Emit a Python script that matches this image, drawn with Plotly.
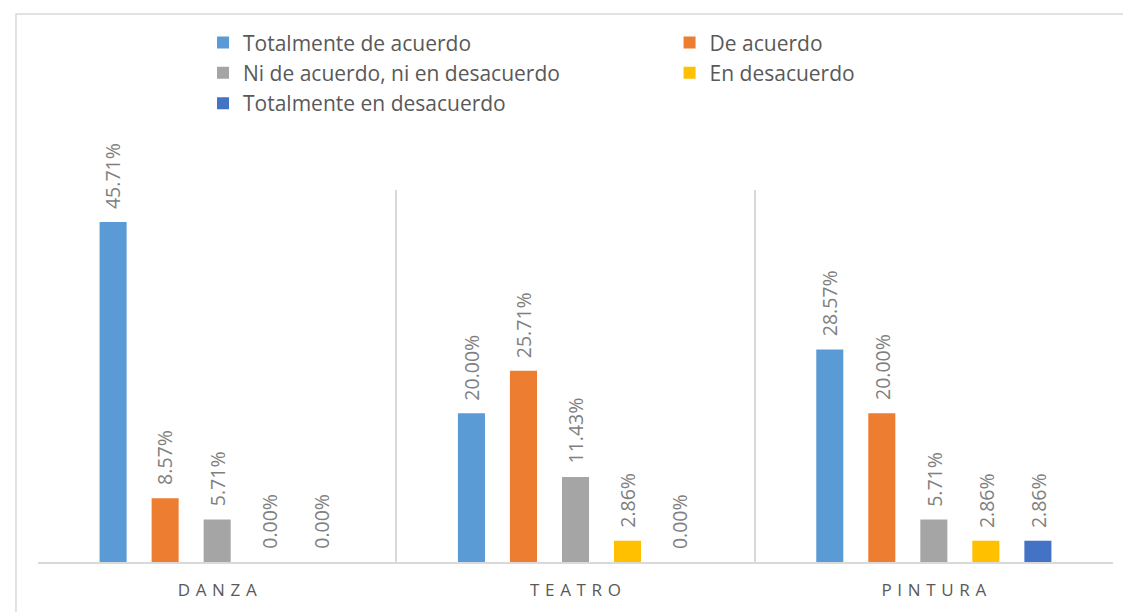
import plotly.graph_objects as go

categories = ["DANZA", "TEATRO", "PINTURA"]
series_names = [
    "Totalmente de acuerdo",
    "De acuerdo",
    "Ni de acuerdo, ni en desacuerdo",
    "En desacuerdo",
    "Totalmente en desacuerdo",
]
totalmente_de_acuerdo = [45.71, 20.00, 28.57]
de_acuerdo = [8.57, 25.71, 20.00]
ni_de_acuerdo = [5.71, 11.43, 5.71]
en_desacuerdo = [0.00, 2.86, 2.86]
totalmente_en_desacuerdo = [0.00, 0.00, 2.86]
series_values = [totalmente_de_acuerdo, de_acuerdo, ni_de_acuerdo,
                 en_desacuerdo, totalmente_en_desacuerdo]
colors = ["#5B9BD5", "#ED7D31", "#A5A5A5", "#FFC000", "#4472C4"]
legend_ids = ["legend", "legend2", "legend", "legend2", "legend"]

FONT = "Open Sans"
BARGAP = 0.274
n = len(series_names)
slot = (1 - BARGAP) / n

fig = go.Figure()
annotations = []
for i, (name, vals) in enumerate(zip(series_names, series_values)):
    fig.add_trace(go.Bar(
        x=categories, y=vals, name=name,
        marker=dict(color=colors[i], line=dict(width=0)),
        legend=legend_ids[i],
    ))
    for j, v in enumerate(vals):
        annotations.append(dict(
            x=j + (i - (n - 1) / 2) * slot, y=v, xref="x", yref="y",
            text=f"{v:.2f}%", textangle=-90, showarrow=False,
            xanchor="center", yanchor="bottom", yshift=11,
            font=dict(family=FONT, size=19.5, color="#7F7F7F"),
        ))

ticktext = ["\u2004".join(c) for c in categories]

fig.update_layout(
    width=1131, height=612,
    margin=dict(l=30, r=26, t=182, b=58),
    paper_bgcolor="white", plot_bgcolor="white",
    barmode="group", bargap=BARGAP, bargroupgap=0.48,
    font=dict(family=FONT, color="#595959"),
    annotations=annotations,
    legend=dict(x=0.1535, y=1.4505, xanchor="left", yanchor="top",
                orientation="v", font=dict(family=FONT, size=21, color="#595959"),
                bgcolor="rgba(0,0,0,0)", traceorder="normal", itemwidth=30),
    legend2=dict(x=0.5875, y=1.4505, xanchor="left", yanchor="top",
                 orientation="v", font=dict(family=FONT, size=21, color="#595959"),
                 bgcolor="rgba(0,0,0,0)", traceorder="normal", itemwidth=30),
    xaxis=dict(
        tickmode="array", tickvals=categories, ticktext=ticktext,
        tickson="boundaries", showgrid=True, gridcolor="#D9D9D9", gridwidth=1.5,
        ticks="", showline=True, linecolor="#D9D9D9", linewidth=2,
        tickfont=dict(family=FONT, size=17, color="#595959"),
        ticklabelstandoff=12,
        range=[-0.5, 2.5], zeroline=False,
    ),
    yaxis=dict(range=[0, 50], visible=False, showgrid=False, zeroline=False),
    shapes=[dict(type="rect", xref="paper", yref="paper",
                 x0=-0.0205, x1=1.05, y0=-0.3, y1=1.473,
                 line=dict(color="#D9D9D9", width=1.5), layer="below")],
    showlegend=True,
)

fig.write_html("out.html")
